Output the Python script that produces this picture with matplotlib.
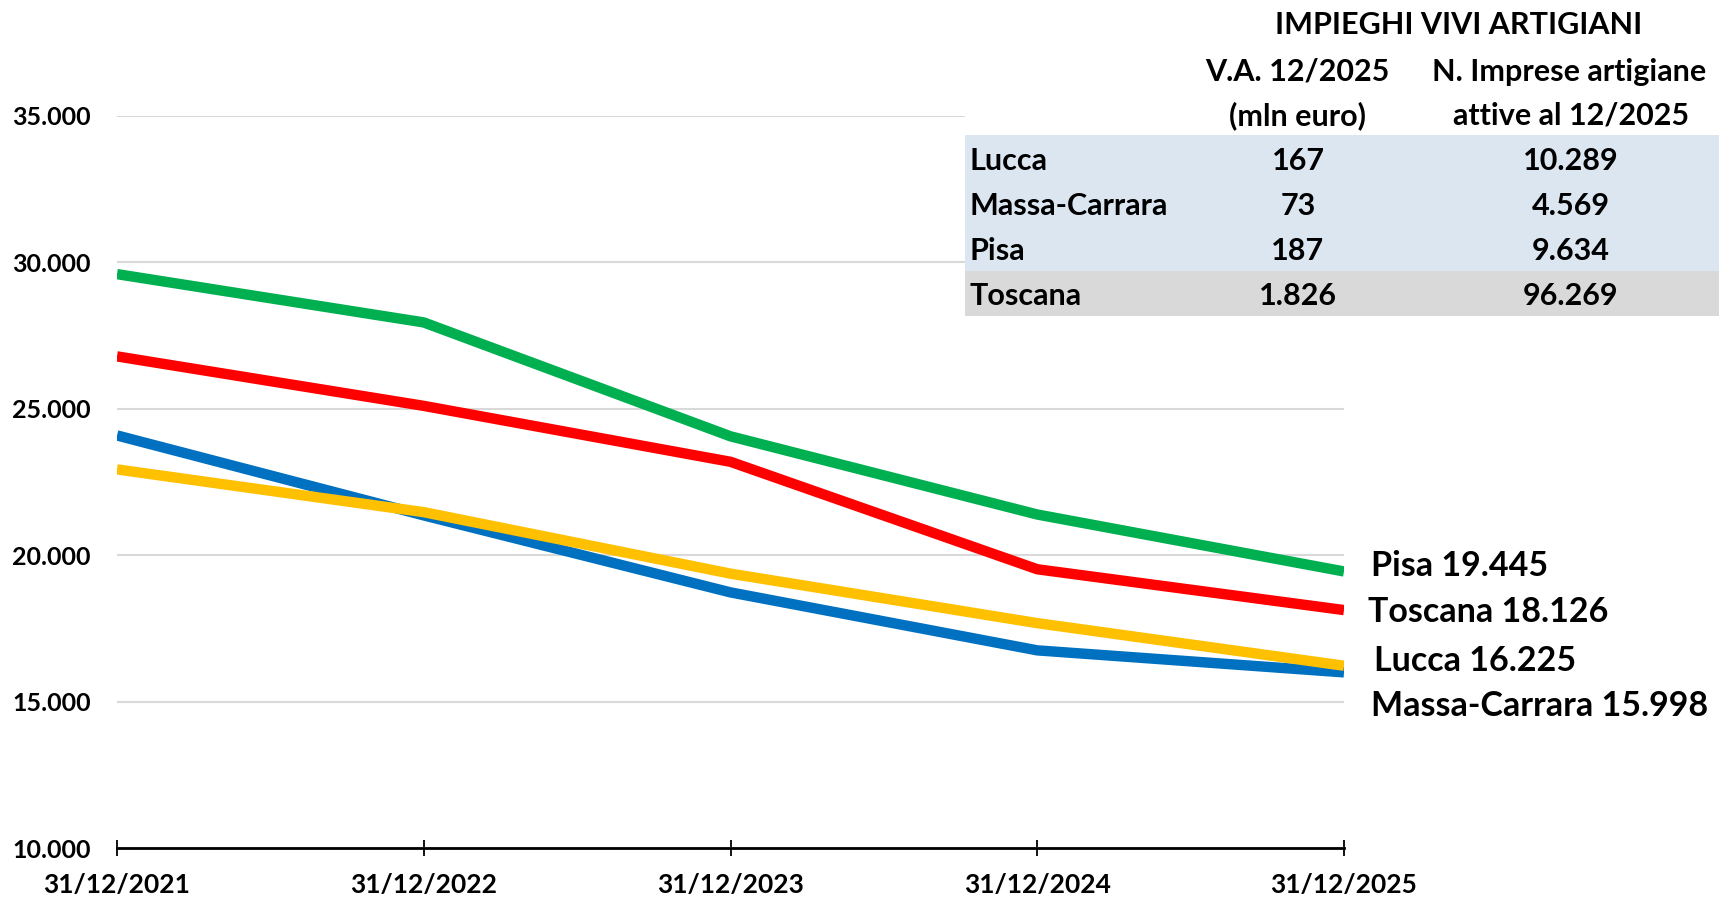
import matplotlib.pyplot as plt
from matplotlib.patches import Rectangle
from matplotlib.ticker import FuncFormatter

# dati
date = ["31/12/2021", "31/12/2022", "31/12/2023", "31/12/2024", "31/12/2025"]
lucca = [22930, 21470, 19370, 17680, 16225]
massa_carrara = [24090, 21360, 18730, 16750, 15998]
pisa = [29600, 27950, 24060, 21390, 19445]
toscana = [26790, 25100, 23190, 19520, 18126]

tab_province = ["Lucca", "Massa-Carrara", "Pisa", "Toscana"]
tab_va = ["167", "73", "187", "1.826"]
tab_imprese = ["10.289", "4.569", "9.634", "96.269"]

plt.rcParams['font.family'] = ['Lato', 'DejaVu Sans']
plt.rcParams['font.weight'] = 'bold'

W, H = 1719, 900
fig = plt.figure(figsize=(W / 100, H / 100), dpi=100)
ax = fig.add_axes([117 / W, 1 - 848 / H, (1344 - 117) / W, (848 - 116) / H])

x = list(range(len(date)))
serie = [
    ("Massa-Carrara", massa_carrara, "#0070c0", (27, -34)),
    ("Lucca", lucca, "#ffc000", (30, 5)),
    ("Toscana", toscana, "#ff0000", (24, -2)),
    ("Pisa", pisa, "#00b050", (27, 5)),
]
for nome, val, col, off in serie:
    ax.plot(x, val, color=col, lw=7.5, solid_capstyle='butt', zorder=3)
    ax.annotate(f"{nome} {val[-1]:,}".replace(",", "."), xy=(x[-1], val[-1]),
                xytext=(off[0], off[1]), textcoords='offset pixels',
                ha='left', va='center', fontsize=24.5, fontweight='bold',
                annotation_clip=False)

ax.set_xlim(0, 4)
ax.set_ylim(10000, 35000)
ax.set_yticks(range(10000, 35001, 5000))
ax.yaxis.set_major_formatter(FuncFormatter(lambda v, p: f"{int(v):,}".replace(",", ".")))
ax.set_xticks(x)
ax.set_xticklabels(date)
ax.grid(axis='y', color='#d9d9d9', lw=1.5)
ax.set_axisbelow(True)
for s in ['top', 'right', 'left']:
    ax.spines[s].set_visible(False)
ax.spines['bottom'].set_linewidth(2)
ax.spines['bottom'].set_zorder(4)
ax.tick_params(axis='y', length=0, pad=19, labelsize=18)
ax.tick_params(axis='x', direction='inout', length=12, width=1.3, pad=12, labelsize=19)

# tabella in alto a destra
def fx(px):
    return px / W

def fy(py):
    return 1 - py / H

fig.add_artist(Rectangle((fx(965), fy(135)), fx(W - 965), 135 / H, transform=fig.transFigure,
                         facecolor='white', edgecolor='none', zorder=5))
fig.add_artist(Rectangle((fx(965), fy(271)), fx(W - 965), 136 / H, transform=fig.transFigure,
                         facecolor='#dce6f1', edgecolor='none', zorder=5))
fig.add_artist(Rectangle((fx(965), fy(316)), fx(W - 965), 45 / H, transform=fig.transFigure,
                         facecolor='#d9d9d9', edgecolor='none', zorder=5))

ts = 22
fig.text(fx(1459), fy(25), "IMPIEGHI VIVI ARTIGIANI", ha='center', va='center', fontsize=ts, zorder=6)
fig.text(fx(1297), fy(72), "V.A. 12/2025", ha='center', va='center', fontsize=ts, zorder=6)
fig.text(fx(1297), fy(116), "(mln euro)", ha='center', va='center', fontsize=ts, zorder=6)
fig.text(fx(1569), fy(72), "N. Imprese artigiane", ha='center', va='center', fontsize=ts, zorder=6)
fig.text(fx(1571), fy(116), "attive al 12/2025", ha='center', va='center', fontsize=ts, zorder=6)
for i, (p, v, n) in enumerate(zip(tab_province, tab_va, tab_imprese)):
    yy = fy(161 + i * 45)
    fig.text(fx(969), yy, p, ha='left', va='center', fontsize=ts, zorder=6)
    fig.text(fx(1298), yy, v, ha='center', va='center', fontsize=ts, zorder=6)
    fig.text(fx(1571), yy, n, ha='center', va='center', fontsize=ts, zorder=6)

fig.savefig("out.png", dpi=100)
